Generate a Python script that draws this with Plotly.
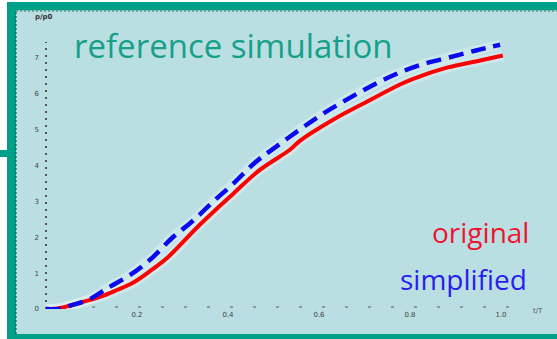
import plotly.graph_objects as go

# ---- data ----
red_x = [0.0, 0.031, 0.081, 0.119, 0.156, 0.191, 0.229, 0.266, 0.338, 0.411, 0.470,
         0.536, 0.558, 0.631, 0.705, 0.778, 0.807, 0.881, 0.954, 1.004]
red_y = [0.0, 0.03, 0.20, 0.34, 0.53, 0.73, 1.06, 1.42, 2.35, 3.21, 3.88,
         4.44, 4.69, 5.28, 5.78, 6.26, 6.42, 6.73, 6.93, 7.07]

blue_x = [0.0, 0.030, 0.057, 0.081, 0.101, 0.125, 0.147, 0.185, 0.231, 0.277, 0.323,
          0.367, 0.411, 0.459, 0.503, 0.554, 0.602, 0.657, 0.712, 0.767, 0.826,
          0.884, 0.945, 0.998]
blue_y = [0.0, 0.0, 0.11, 0.20, 0.31, 0.50, 0.67, 0.95, 1.40, 1.98, 2.46,
          2.99, 3.49, 4.08, 4.50, 4.97, 5.39, 5.81, 6.20, 6.54, 6.82,
          7.01, 7.21, 7.37]

x_ticks = [0.2, 0.4, 0.6, 0.8, 1.0]
x_tick_labels = ["0.2", "0.4", "0.6", "0.8", "1.0"]
y_ticks = [0, 1, 2, 3, 4, 5, 6, 7]
y_tick_labels = ["0", "1", "2", "3", "4", "5", "6", "7"]

title_text = "reference simulation"
series_names = ["original", "simplified"]

# ---- layout geometry ----
W, H = 557, 339
L, R, T, B = 46, 33, 40, 30
PW, PH = W - L - R, H - T - B


def px(x):
    return (x - L) / PW


def py(y):
    return (H - B - y) / PH


GREEN = "#00A088"
TEAL_BG = "#BADFE2"
RED = "#FF0000"
BLUE = "#0A0AF0"

fig = go.Figure()

# white halos (speckle look)
fig.add_trace(go.Scatter(x=red_x, y=red_y, mode="lines", cliponaxis=False,
                         line=dict(color="rgba(255,255,255,0.28)", width=10, shape="spline"),
                         hoverinfo="skip", showlegend=False))
fig.add_trace(go.Scatter(x=blue_x, y=blue_y, mode="lines", cliponaxis=False,
                         line=dict(color="rgba(255,255,255,0.28)", width=10, shape="spline"),
                         hoverinfo="skip", showlegend=False))

fig.add_trace(go.Scatter(x=red_x, y=red_y, mode="lines", name=series_names[0], cliponaxis=False,
                         line=dict(color=RED, width=4, shape="spline"), showlegend=False))
fig.add_trace(go.Scatter(x=blue_x, y=blue_y, mode="lines", name=series_names[1], cliponaxis=False,
                         line=dict(color=BLUE, width=4.5, dash="15px,8px", shape="spline"),
                         showlegend=False))

shapes = [
    # teal panel
    dict(type="rect", xref="paper", yref="paper", x0=px(16), x1=px(W + 5), y0=py(334), y1=py(11),
         fillcolor=TEAL_BG, line=dict(width=0), layer="below"),
    # green frame
    dict(type="rect", xref="paper", yref="paper", x0=px(7), x1=px(16), y0=py(H + 5), y1=py(2),
         fillcolor=GREEN, line=dict(width=0), layer="below"),
    dict(type="rect", xref="paper", yref="paper", x0=px(7), x1=px(W + 5), y0=py(10.5), y1=py(2),
         fillcolor=GREEN, line=dict(width=0), layer="below"),
    dict(type="rect", xref="paper", yref="paper", x0=px(7), x1=px(W + 5), y0=py(H + 5), y1=py(334),
         fillcolor=GREEN, line=dict(width=0), layer="below"),
    dict(type="rect", xref="paper", yref="paper", x0=px(-5), x1=px(8), y0=py(157), y1=py(150),
         fillcolor=GREEN, line=dict(width=0), layer="below"),
    # dotted inner border
    dict(type="line", xref="paper", yref="paper", x0=px(16), x1=px(16), y0=py(334), y1=py(11),
         line=dict(color="#1a3a36", width=1, dash="2px,2px"), layer="below"),
    dict(type="line", xref="paper", yref="paper", x0=px(16), x1=px(W + 5), y0=py(11), y1=py(11),
         line=dict(color="#3a6a66", width=1, dash="2px,2px"), layer="below"),
    # axes (dotted)
    dict(type="line", xref="paper", yref="paper", x0=px(46), x1=px(46), y0=py(309), y1=py(42),
         line=dict(color="#555555", width=2, dash="2px,5px"), layer="below"),
    dict(type="line", xref="paper", yref="paper", x0=px(46), x1=px(522), y0=py(307), y1=py(307),
         line=dict(color="#8a9a9c", width=2, dash="3px,20px"), layer="below"),
]

annotations = [
    dict(text=title_text, xref="paper", yref="paper", x=px(72), y=py(46), xanchor="left",
         yanchor="middle", showarrow=False,
         font=dict(family="Open Sans", size=33, color="#17A088")),
    dict(text=series_names[0], xref="paper", yref="paper", x=px(531), y=py(232), xanchor="right",
         yanchor="middle", showarrow=False,
         font=dict(family="Open Sans", size=28, color="#EE1530")),
    dict(text=series_names[1], xref="paper", yref="paper", x=px(529), y=py(279), xanchor="right",
         yanchor="middle", showarrow=False,
         font=dict(family="Open Sans", size=28, color="#2A1EEE")),
    dict(text="<b>p/p0</b>", xref="paper", yref="paper", x=px(44), y=py(17), xanchor="center",
         yanchor="middle", showarrow=False, font=dict(family="DejaVu Sans", size=7, color="#333")),
    dict(text="t/T", xref="paper", yref="paper", x=px(538), y=py(311), xanchor="center",
         yanchor="middle", showarrow=False, font=dict(family="DejaVu Sans", size=7, color="#555")),
]

fig.update_layout(
    width=W, height=H,
    margin=dict(l=L, r=R, t=T, b=B),
    paper_bgcolor="white",
    plot_bgcolor="rgba(0,0,0,0)",
    shapes=shapes,
    annotations=annotations,
    showlegend=False,
    hovermode=False,
    xaxis=dict(range=[0, PW / 455.0], showgrid=False, zeroline=False, showline=False,
               tickmode="array", tickvals=x_ticks, ticktext=x_tick_labels, ticks="",
               tickfont=dict(family="DejaVu Sans", size=7, color="#444")),
    yaxis=dict(range=[0, PH / 35.857], showgrid=False, zeroline=False, showline=False,
               tickmode="array", tickvals=y_ticks, ticktext=y_tick_labels, ticks="",
               ticklabelstandoff=6,
               tickfont=dict(family="DejaVu Sans", size=7, color="#444")),
)

fig.write_html("out.html",
               config={"displayModeBar": False, "staticPlot": True},
               post_script="document.body.style.margin='0';document.body.style.overflow='hidden';")
